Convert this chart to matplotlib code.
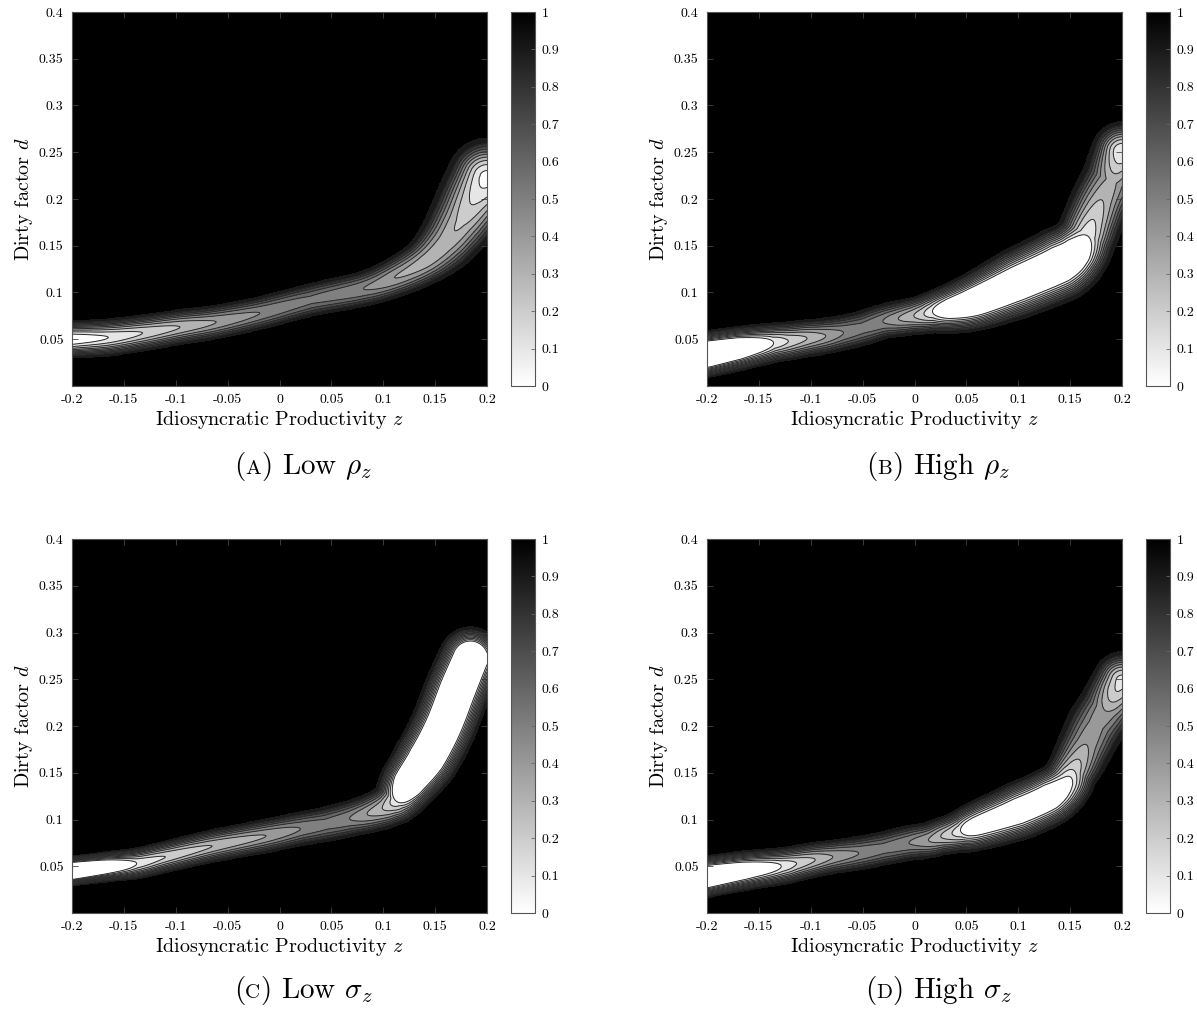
import numpy as np
import matplotlib
matplotlib.use("Agg")
import matplotlib.pyplot as plt
from matplotlib.colors import Normalize
from matplotlib.cm import ScalarMappable
from matplotlib.offsetbox import TextArea, HPacker, AnnotationBbox

plt.rcParams["font.family"] = "cmr10"
plt.rcParams["mathtext.fontset"] = "cm"
plt.rcParams["axes.formatter.use_mathtext"] = True
plt.rcParams["axes.unicode_minus"] = False

# Ridge: z knot, centre d, value on the ridge, half width (px)
# (A) Low rho_z
a_z = [-0.2, -0.165, -0.132, -0.096, -0.061, -0.019, 0.03, 0.081, 0.111, 0.14, 0.16, 0.175, 0.188, 0.2]
a_d = [0.050, 0.052, 0.0567, 0.063, 0.0685, 0.078, 0.092, 0.104, 0.116, 0.133, 0.153, 0.176, 0.2, 0.222]
a_v = [0.0, 0.1, 0.2, 0.3, 0.4, 0.5, 0.57, 0.5, 0.4, 0.34, 0.33, 0.28, 0.18, 0.05]
a_w = [16, 16, 15.5, 15, 14.5, 14, 14, 15, 17, 20, 25, 29, 32, 34]

# (B) High rho_z
b_z = [-0.2, -0.17, -0.137, -0.122, -0.104, -0.086, -0.069, -0.05, -0.03, -0.015, 0.0, 0.01, 0.019,
       0.035, 0.06, 0.1, 0.14, 0.155, 0.165, 0.172, 0.18, 0.19, 0.195, 0.2]
b_d = [0.034, 0.040, 0.046, 0.048, 0.051, 0.0535, 0.057, 0.062, 0.069, 0.072, 0.075, 0.077, 0.0795,
       0.083, 0.091, 0.11, 0.13, 0.142, 0.158, 0.177, 0.198, 0.22, 0.235, 0.25]
b_v = [-0.5, -0.3, 0.1, 0.2, 0.3, 0.4, 0.5, 0.55, 0.5, 0.4, 0.3, 0.2, 0.1,
       -0.15, -0.3, -0.3, -0.3, -0.2, 0.1, 0.2, 0.3, 0.38, 0.25, 0.1]
b_w = [20, 19, 17, 16.5, 16, 15.5, 15, 15, 15, 15.5, 16, 17, 18,
       21, 25, 30, 32, 29, 26, 26, 26, 26, 26, 26]

# (C) Low sigma_z
c_z = [-0.2, -0.17, -0.138, -0.11, -0.065, -0.013, 0.02, 0.045, 0.068, 0.085, 0.1, 0.108, 0.115,
       0.125, 0.142, 0.158, 0.172, 0.184]
c_d = [0.045, 0.049, 0.053, 0.06, 0.0715, 0.0825, 0.09, 0.095, 0.101, 0.106, 0.112, 0.117, 0.123,
       0.14, 0.166, 0.2, 0.24, 0.272]
c_v = [-0.5, -0.25, 0.1, 0.2, 0.3, 0.4, 0.5, 0.55, 0.5, 0.4, 0.3, 0.2, 0.1,
       -0.4, -0.5, -0.5, -0.5, -0.5]
c_w = [13, 13, 13.5, 13.5, 14, 14.5, 14.5, 15, 15.5, 16.5, 18, 19, 21,
       25, 28, 28, 28, 27]

# (D) High sigma_z
d_z = [-0.2, -0.165, -0.129, -0.114, -0.096, -0.079, -0.054, -0.03, -0.005, 0.014, 0.026, 0.037, 0.046,
       0.06, 0.1, 0.13, 0.145, 0.152, 0.158, 0.165, 0.175, 0.185, 0.19, 0.195, 0.2]
d_d = [0.039, 0.045, 0.05, 0.053, 0.057, 0.06, 0.064, 0.069, 0.075, 0.078, 0.082, 0.085, 0.088,
       0.093, 0.109, 0.124, 0.137, 0.151, 0.163, 0.179, 0.201, 0.218, 0.228, 0.238, 0.248]
d_v = [-0.4, -0.2, 0.1, 0.2, 0.3, 0.4, 0.5, 0.55, 0.5, 0.4, 0.3, 0.2, 0.1,
       -0.1, -0.2, -0.2, 0.0, 0.2, 0.3, 0.4, 0.45, 0.4, 0.3, 0.2, 0.15]
d_w = [18, 17, 16, 15.5, 15, 14.5, 14.5, 14.5, 15, 15.5, 16, 17, 18,
       21, 25, 25, 23, 22, 23, 24, 25, 25, 25, 25, 25]

captions = ["A", "B", "C", "D"]
caption_text = [r"Low $\rho_z$", r"High $\rho_z$", r"Low $\sigma_z$", r"High $\sigma_z$"]

x_ticks = [-0.2, -0.15, -0.1, -0.05, 0, 0.05, 0.1, 0.15, 0.2]
x_tick_labels = ["-0.2", "-0.15", "-0.1", "-0.05", "0", "0.05", "0.1", "0.15", "0.2"]
y_ticks = [0.05, 0.1, 0.15, 0.2, 0.25, 0.3, 0.35, 0.4]
y_tick_labels = ["0.05", "0.1", "0.15", "0.2", "0.25", "0.3", "0.35", "0.4"]
cb_ticks = [0, 0.1, 0.2, 0.3, 0.4, 0.5, 0.6, 0.7, 0.8, 0.9, 1]
cb_tick_labels = ["0", "0.1", "0.2", "0.3", "0.4", "0.5", "0.6", "0.7", "0.8", "0.9", "1"]

# Figure layout (pixels at dpi 100)
FIG_W, FIG_H = 1197, 1013
AX_W, AX_H = 415, 374
G0 = 0.01


def densify(zk, dk, vk, wk, n=16):
    # Catmull-Rom through the knots (pixel space), linear for value and width
    P = np.column_stack([(np.asarray(zk) + 0.2) / 0.4 * AX_W, np.asarray(dk) / 0.4 * AX_H])
    P = np.vstack([2 * P[0] - P[1], P, 2 * P[-1] - P[-2]])
    xs, ys, vs, ws = [], [], [], []
    for i in range(len(zk) - 1):
        p0, p1, p2, p3 = P[i], P[i + 1], P[i + 2], P[i + 3]
        for t in np.linspace(0, 1, n, endpoint=False):
            pt = 0.5 * (2 * p1 + (-p0 + p2) * t + (2 * p0 - 5 * p1 + 4 * p2 - p3) * t ** 2
                        + (-p0 + 3 * p1 - 3 * p2 + p3) * t ** 3)
            xs.append(pt[0])
            ys.append(pt[1])
            vs.append(vk[i] + t * (vk[i + 1] - vk[i]))
            ws.append(wk[i] + t * (wk[i + 1] - wk[i]))
    xs.append(P[-2][0]); ys.append(P[-2][1]); vs.append(vk[-1]); ws.append(wk[-1])
    return np.array(xs), np.array(ys), np.array(vs), np.array(ws)


def build_field(zk, dk, vk, wk, Z, D):
    px = (Z + 0.2) / 0.4 * AX_W
    py = D / 0.4 * AX_H
    kx, ky, kv, kw = densify(zk, dk, vk, wk)
    depth = np.zeros_like(Z)
    for i in range(len(kx) - 1):
        x0, y0, x1, y1 = kx[i], ky[i], kx[i + 1], ky[i + 1]
        dx, dy = x1 - x0, y1 - y0
        t = np.clip(((px - x0) * dx + (py - y0) * dy) / (dx * dx + dy * dy), 0, 1)
        r = np.hypot(px - (x0 + t * dx), py - (y0 + t * dy))
        v = kv[i] + t * (kv[i + 1] - kv[i])
        w = kw[i] + t * (kw[i + 1] - kw[i])
        x = r / w
        g = np.exp(-(x ** 2 + x ** 6))
        h = np.clip((g - G0) / (1 - G0), 0, 1)
        depth = np.maximum(depth, (1 - v) * h)
    return np.clip(1 - depth, 0, 1)


def caption(fig, x, y, letter, text):
    parts = [
        TextArea("(", textprops=dict(size=21)),
        TextArea(letter, textprops=dict(size=15)),
        TextArea(") " + text, textprops=dict(size=21)),
    ]
    box = HPacker(children=parts, align="baseline", pad=0, sep=0)
    ab = AnnotationBbox(box, (x, y), xycoords="figure pixels", frameon=False,
                        box_alignment=(0.5, 0.5))
    fig.add_artist(ab)


zz = np.linspace(-0.2, 0.2, 700)
dd = np.linspace(0.0, 0.4, 700)
Z, D = np.meshgrid(zz, dd)

panels = [
    (a_z, a_d, a_v, a_w),
    (b_z, b_d, b_v, b_w),
    (c_z, c_d, c_v, c_w),
    (d_z, d_d, d_v, d_w),
]
ax_left = [72, 707, 72, 707]
ax_top = [12, 12, 539, 539]
cb_left = [511, 1146, 511, 1146]
cap_y = [466, 466, 990, 990]

fill_levels = [-0.01, 0.1, 0.2, 0.3, 0.4, 0.5, 0.6, 0.7, 0.8, 0.9, 0.99999, 1.01]
fill_colors = [str(round(1 - c, 3)) for c in [0, 0.1, 0.2, 0.3, 0.4, 0.5, 0.6, 0.7, 0.8, 0.9, 1.0]]
line_levels = [0.1, 0.2, 0.3, 0.4, 0.5, 0.6, 0.7, 0.8, 0.9]

fig = plt.figure(figsize=(FIG_W / 100, FIG_H / 100), dpi=100)
frame_col = "#555555"

for k, (zk, dk, vk, wk) in enumerate(panels):
    field = build_field(zk, dk, vk, wk, Z, D)
    ax = fig.add_axes([ax_left[k] / FIG_W, 1 - (ax_top[k] + AX_H) / FIG_H,
                       AX_W / FIG_W, AX_H / FIG_H])
    ax.contourf(Z, D, field, levels=fill_levels, colors=fill_colors)
    ax.contour(Z, D, field, levels=line_levels, colors="#2a2a2a", linewidths=0.7)
    ax.set_xlim(-0.2, 0.2)
    ax.set_ylim(0.0, 0.4)
    ax.set_xticks(x_ticks)
    ax.set_xticklabels(x_tick_labels)
    ax.set_yticks(y_ticks)
    ax.set_yticklabels(y_tick_labels)
    ax.tick_params(direction="in", length=4, width=0.6, color="#444444",
                   labelsize=10, top=True, right=True, pad=6)
    for sp in ax.spines.values():
        sp.set_color(frame_col)
        sp.set_linewidth(0.8)
    ax.set_xlabel(r"Idiosyncratic Productivity $z$", fontsize=14.5, labelpad=2)
    ax.set_ylabel(r"Dirty factor $d$", fontsize=14.5, labelpad=3)

    cax = fig.add_axes([cb_left[k] / FIG_W, 1 - (ax_top[k] + AX_H) / FIG_H,
                        24 / FIG_W, AX_H / FIG_H])
    cb = fig.colorbar(ScalarMappable(norm=Normalize(0, 1), cmap="gray_r"), cax=cax,
                      ticks=cb_ticks)
    cb.ax.set_yticklabels(cb_tick_labels)
    cb.ax.tick_params(direction="in", length=3, width=0.6, color="#666666",
                      labelsize=10, pad=5)
    cb.outline.set_edgecolor(frame_col)
    cb.outline.set_linewidth(0.8)

    cx = (ax_left[k] + cb_left[k] + 24) / 2
    caption(fig, cx, FIG_H - cap_y[k], captions[k], caption_text[k])

fig.savefig("out.png", dpi=100, facecolor="white")
